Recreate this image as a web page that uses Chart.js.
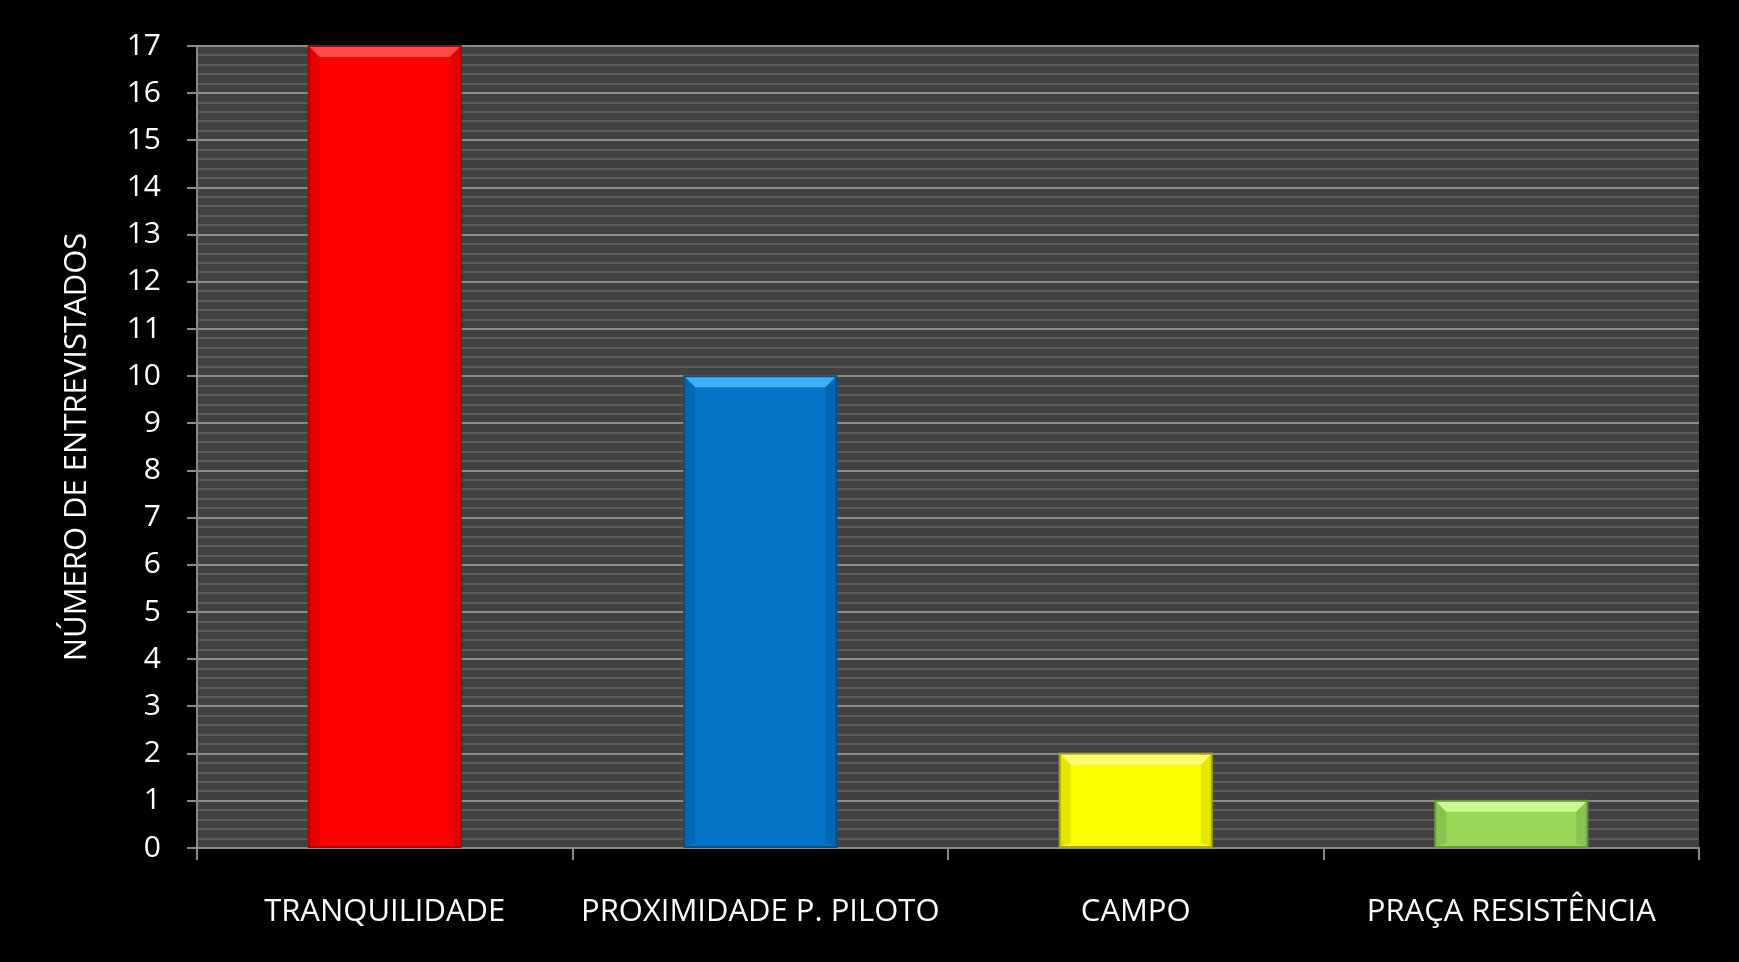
<!DOCTYPE html>
<html>
<head>
<meta charset="utf-8">
<script src="https://cdn.jsdelivr.net/npm/chart.js@4.4.1/dist/chart.umd.min.js"></script>
<style>
  html, body { margin: 0; padding: 0; background: #000; }
  #wrap { width: 1739px; height: 962px; }
</style>
</head>
<body>
<div id="wrap"><canvas id="motivosChart" width="1739" height="962"></canvas></div>
<script>
const categorias = ['TRANQUILIDADE', 'PROXIMIDADE P. PILOTO', 'CAMPO', 'PRAÇA RESISTÊNCIA'];
const entrevistados = [17, 10, 2, 1];
const coresBarra = ['#ff0000', '#0474c8', '#ffff00', '#98d858'];
const coresTopo = ['#ff4a4a', '#3cb0f8', '#ffff70', '#c8f890'];
const coresBorda = ['#b00000', '#03508c', '#a8a800', '#6a9a38'];
const yMax = 17;

const fonte = "'Open Sans', 'DejaVu Sans', sans-serif";

function isInteiro(v) {
    return Math.abs(v - Math.round(v)) < 1e-6;
}

// Efeito de bisel nas barras (topo claro, laterais escuras)
const biselPlugin = {
    id: 'bisel',
    afterDatasetsDraw(chart) {
        const { ctx } = chart;
        const meta = chart.getDatasetMeta(0);
        ctx.save();
        meta.data.forEach((bar, i) => {
            const left = bar.x - bar.width / 2;
            const right = bar.x + bar.width / 2;
            const top = bar.y;
            const bottom = bar.base;
            const b = 11;

            // topo
            ctx.beginPath();
            ctx.moveTo(left, top);
            ctx.lineTo(right, top);
            ctx.lineTo(right - b, top + b);
            ctx.lineTo(left + b, top + b);
            ctx.closePath();
            ctx.fillStyle = coresTopo[i];
            ctx.fill();

            // laterais
            ctx.fillStyle = 'rgba(0,0,0,0.10)';
            ctx.beginPath();
            ctx.moveTo(left, top);
            ctx.lineTo(left + b, top + b);
            ctx.lineTo(left + b, bottom - 4);
            ctx.lineTo(left, bottom);
            ctx.closePath();
            ctx.fill();
            ctx.beginPath();
            ctx.moveTo(right, top);
            ctx.lineTo(right - b, top + b);
            ctx.lineTo(right - b, bottom - 4);
            ctx.lineTo(right, bottom);
            ctx.closePath();
            ctx.fill();

            ctx.strokeStyle = coresBorda[i];
            ctx.lineWidth = 2;
            ctx.strokeRect(left, top, right - left, bottom - top);
        });
        ctx.restore();
    }
};

// Fundo cinza da área do gráfico
const fundoPlugin = {
    id: 'fundo',
    beforeDraw(chart) {
        const { ctx, chartArea: a } = chart;
        ctx.save();
        ctx.fillStyle = '#414141';
        ctx.fillRect(a.left, a.top, a.right - a.left, a.bottom - a.top);
        ctx.restore();
    }
};

new Chart(document.getElementById('motivosChart').getContext('2d'), {
    type: 'bar',
    data: {
        labels: categorias,
        datasets: [{
            data: entrevistados,
            backgroundColor: coresBarra,
            borderWidth: 0,
            barPercentage: 0.405,
            categoryPercentage: 1
        }]
    },
    options: {
        responsive: false,
        animation: false,
        devicePixelRatio: 1,
        layout: {
            padding: { left: 0, top: 46, right: 40, bottom: 0 }
        },
        plugins: {
            legend: { display: false },
            tooltip: { enabled: false }
        },
        scales: {
            y: {
                min: 0,
                max: yMax,
                afterFit: scale => { scale.width = 197; },
                afterBuildTicks: scale => {
                    const t = [];
                    for (let k = 0; k <= yMax * 5; k++) t.push({ value: k / 5 });
                    scale.ticks = t;
                },
                border: { color: '#8a8a8a', width: 2 },
                grid: {
                    color: c => isInteiro(c.tick.value) ? '#8c8c8c' : '#5c5c5c',
                    lineWidth: 2,
                    tickColor: c => isInteiro(c.tick.value) ? '#8a8a8a' : 'rgba(0,0,0,0)',
                    tickLength: 10
                },
                ticks: {
                    autoSkip: false,
                    padding: 26,
                    color: '#ffffff',
                    font: { family: fonte, size: 30 },
                    callback: v => isInteiro(v) ? Math.round(v) : ''
                },
                title: {
                    display: true,
                    text: 'NÚMERO DE ENTREVISTADOS',
                    color: '#ffffff',
                    font: { family: fonte, size: 31 },
                    padding: { top: 59, bottom: 0 }
                }
            },
            x: {
                offset: true,
                afterFit: scale => { scale.height = 962 - 848; },
                border: { color: '#8a8a8a', width: 2 },
                grid: {
                    offset: true,
                    drawOnChartArea: false,
                    tickColor: '#8a8a8a',
                    tickLength: 12,
                    lineWidth: 2
                },
                ticks: {
                    padding: 34,
                    color: '#ffffff',
                    maxRotation: 0,
                    font: { family: fonte, size: 31 }
                }
            }
        }
    },
    plugins: [fundoPlugin, biselPlugin]
});
</script>
</body>
</html>
